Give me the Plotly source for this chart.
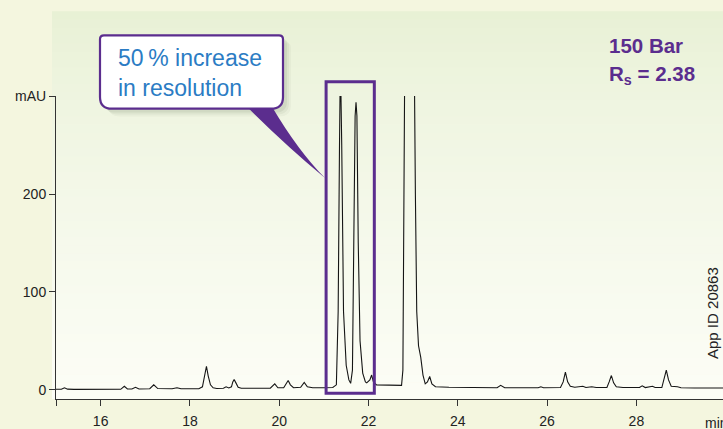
import plotly.graph_objects as go

# ---------------- data ----------------
time_min = [
    15.00, 15.12, 15.19, 15.26, 15.40, 16.00, 16.45, 16.53, 16.60, 16.70, 16.78, 16.86,
    17.10, 17.19, 17.28, 17.60, 17.71, 17.80, 18.20, 18.28, 18.33, 18.37, 18.41, 18.46,
    18.52, 18.60, 18.75, 18.81, 18.87, 18.93, 18.96, 18.99, 19.03, 19.08, 19.15, 19.80,
    19.90, 19.97, 20.10, 20.16, 20.20, 20.25, 20.32, 20.48, 20.56, 20.63, 20.75, 21.00,
    21.20, 21.28, 21.32, 21.35, 21.37, 21.40, 21.44, 21.50, 21.56, 21.60, 21.64, 21.67,
    21.70, 21.72, 21.74, 21.77, 21.81, 21.87, 21.93, 21.96, 22.03, 22.07, 22.11, 22.18,
    22.50, 22.74, 22.77, 22.79, 22.82, 22.92, 23.01, 23.05, 23.08, 23.12, 23.17, 23.22,
    23.27, 23.32, 23.37, 23.42, 23.50, 23.80, 24.50, 24.88, 24.96, 25.05, 25.80, 25.86,
    25.92, 26.30, 26.36, 26.41, 26.46, 26.52, 26.62, 26.80, 26.87, 27.00, 27.10, 27.34,
    27.39, 27.44, 27.49, 27.55, 27.70, 28.07, 28.13, 28.20, 28.36, 28.42, 28.57, 28.62,
    28.67, 28.72, 28.78, 28.92, 29.00, 29.30, 29.60, 29.94,
]
signal_mau = [
    0.5, 0.5, 2.0, 0.6, 0.3, 0.3, 0.4, 3.5, 0.8, 0.8, 2.5, 0.8,
    1.0, 5.0, 1.2, 1.0, 2.0, 1.0, 1.0, 3.0, 14.0, 24.0, 14.0, 5.0,
    2.0, 1.3, 1.5, 3.0, 1.8, 3.0, 8.0, 10.5, 7.0, 2.5, 1.5, 1.5,
    6.0, 2.0, 2.0, 6.0, 9.5, 5.0, 2.0, 2.5, 7.5, 3.0, 2.0, 2.0,
    2.2, 5.0, 80.0, 250.0, 340.0, 250.0, 80.0, 25.0, 10.0, 6.5, 20.0, 150.0,
    280.0, 294.0, 280.0, 150.0, 50.0, 17.0, 8.0, 7.0, 10.0, 15.0, 8.0, 5.0,
    4.5, 4.5, 20.0, 150.0, 400.0, 320.0, 420.0, 200.0, 80.0, 45.0, 33.0, 15.0,
    6.0, 8.0, 13.5, 6.0, 3.0, 2.5, 2.0, 2.0, 4.5, 2.0, 2.0, 3.0,
    2.0, 2.2, 8.0, 18.0, 8.0, 3.5, 2.5, 3.5, 2.2, 3.0, 2.2, 2.2,
    8.0, 14.5, 7.0, 3.0, 2.2, 2.2, 4.0, 2.2, 3.5, 2.2, 2.2, 10.0,
    20.0, 10.0, 3.5, 3.0, 2.0, 1.8, 1.8, 1.8,
]

x_tick_vals = [15, 16, 18, 20, 22, 24, 26, 28]
x_tick_text = ["", "16", "18", "20", "22", "24", "26", "28"]
y_tick_vals = [0, 100, 200, 300]
y_tick_text = ["0", "100", "200", "mAU"]

# highlighted region (resolution box)
box_time = [21.05, 22.13]
box_mau = [-3.5, 315.0]

# ---------------- layout geometry ----------------
W, H = 723, 429
ML, MR, MT, MB = 56, 0, 96, 23
X_RANGE = [15.0, 29.94]
Y_RANGE = [-9.5, 300.5]
PLOT_H = H - MT - MB
PLOT_W = W - ML - MR

PURPLE = "#5b2d8e"
BLUE = "#2b7cc4"
FONT = "Liberation Sans, Arial, sans-serif"


def yp_val(v):
    """mAU value -> paper y"""
    return (v - Y_RANGE[0]) / (Y_RANGE[1] - Y_RANGE[0])


def yp_px(py):
    """pixel row -> paper y"""
    return (H - MB - py) / PLOT_H


def xp_px(px):
    return (px - ML) / PLOT_W


fig = go.Figure()
fig.add_trace(go.Scatter(
    x=time_min, y=signal_mau, mode="lines",
    line=dict(color="#151515", width=1.1),
    hoverinfo="skip", showlegend=False,
))

shapes = []

# background panel gradient (light green at top to near white at bottom)
top_c = (231, 240, 212)
bot_c = (252, 253, 246)
n_bands = 48
p_top = yp_px(10)
x0_panel = xp_px(52)
for i in range(n_bands):
    f0 = i / n_bands
    f1 = (i + 1) / n_bands
    fm = (f0 + f1) / 2  # 0 at top
    g = fm ** 0.7
    c = tuple(round(top_c[k] + (bot_c[k] - top_c[k]) * g) for k in range(3))
    shapes.append(dict(
        type="rect", xref="paper", yref="paper",
        x0=x0_panel, x1=1.0,
        y0=p_top * (1 - f1), y1=p_top * (1 - f0) + 0.002,
        fillcolor="rgb(%d,%d,%d)" % c, line=dict(width=0), layer="below",
    ))

# callout geometry (pixels)
cx0, cx1, cy0, cy1 = 100, 283, 34, 109


def rounded_path(px0, px1, py0, py1, rt, rb):
    X0, X1 = xp_px(px0), xp_px(px1)
    Y0, Y1 = yp_px(py0), yp_px(py1)  # Y0 top, Y1 bottom
    rtx, rty = rt / PLOT_W, rt / PLOT_H
    rbx, rby = rb / PLOT_W, rb / PLOT_H
    return (
        f"M {X0 + rtx},{Y0} L {X1 - rtx},{Y0} Q {X1},{Y0} {X1},{Y0 - rty} "
        f"L {X1},{Y1 + rby} Q {X1},{Y1} {X1 - rbx},{Y1} "
        f"L {X0 + rbx},{Y1} Q {X0},{Y1} {X0},{Y1 + rby} "
        f"L {X0},{Y0 - rty} Q {X0},{Y0} {X0 + rtx},{Y0} Z"
    )


# soft shadow
for off, a in [(8, 0.04), (6, 0.06), (4, 0.08)]:
    shapes.append(dict(
        type="path", xref="paper", yref="paper",
        path=rounded_path(cx0 + off, cx1 + off, cy0 + off, cy1 + off, 4, 12),
        fillcolor="rgba(70,80,50,%.2f)" % a, line=dict(width=0), layer="above",
    ))

# pointer wedge
shapes.append(dict(
    type="path", xref="paper", yref="paper",
    path=(f"M {xp_px(247)},{yp_px(cy1 - 2)} L {xp_px(272)},{yp_px(cy1 - 2)} "
          f"Q {xp_px(298)},{yp_px(152)} {xp_px(325)},{yp_px(180)} "
          f"Q {xp_px(284)},{yp_px(145)} {xp_px(247)},{yp_px(cy1 - 2)} Z"),
    fillcolor=PURPLE, line=dict(width=0), layer="above",
))

# callout body
shapes.append(dict(
    type="path", xref="paper", yref="paper",
    path=rounded_path(cx0, cx1, cy0, cy1, 4, 12),
    fillcolor="white", line=dict(color=PURPLE, width=2.2), layer="above",
))

# resolution box around the critical pair
shapes.append(dict(
    type="rect", xref="x", yref="paper",
    x0=box_time[0], x1=box_time[1],
    y0=yp_val(box_mau[0]), y1=yp_val(box_mau[1]),
    line=dict(color=PURPLE, width=3), fillcolor="rgba(0,0,0,0)", layer="above",
))

annotations = [
    dict(text="50\u2009% increase<br>in resolution", xref="paper", yref="paper",
         x=xp_px(116), y=yp_px(72), xanchor="left", yanchor="middle", align="left",
         showarrow=False, font=dict(family=FONT, size=23, color=BLUE)),
    dict(text="<b>150 Bar</b>", xref="paper", yref="paper",
         x=xp_px(607), y=yp_px(44), xanchor="left", yanchor="middle",
         showarrow=False, font=dict(family=FONT, size=20.5, color=PURPLE)),
    dict(text="<b>R<sub>s</sub> = 2.38</b>", xref="paper", yref="paper",
         x=xp_px(607), y=yp_px(75), xanchor="left", yanchor="middle",
         showarrow=False, font=dict(family=FONT, size=20.5, color=PURPLE)),
    dict(text="App ID 20863", xref="paper", yref="paper",
         x=xp_px(713), y=yp_px(318), xanchor="center", yanchor="middle",
         textangle=-90, showarrow=False, font=dict(family=FONT, size=15, color="#222")),
    dict(text="min", xref="paper", yref="paper",
         x=xp_px(703), y=0, yshift=-14, xanchor="left", yanchor="top",
         showarrow=False, font=dict(family=FONT, size=14, color="#222")),
]

fig.update_layout(
    width=W, height=H,
    margin=dict(l=ML, r=MR, t=MT, b=MB, pad=0),
    paper_bgcolor="#f4f6df",
    plot_bgcolor="rgba(0,0,0,0)",
    showlegend=False,
    shapes=shapes,
    annotations=annotations,
    font=dict(family=FONT, size=14, color="#222"),
    xaxis=dict(
        range=X_RANGE, tickvals=x_tick_vals, ticktext=x_tick_text,
        ticks="outside", ticklen=6, tickcolor="#333", tickwidth=1,
        showline=True, linecolor="#333", linewidth=1,
        showgrid=False, zeroline=False, fixedrange=True,
        ticklabelstandoff=3,
        tickfont=dict(family=FONT, size=14, color="#222"),
    ),
    yaxis=dict(
        range=Y_RANGE, tickvals=y_tick_vals, ticktext=y_tick_text,
        ticks="outside", ticklen=6, tickcolor="#333", tickwidth=1,
        showline=True, linecolor="#333", linewidth=1,
        showgrid=False, zeroline=False, fixedrange=True,
        tickfont=dict(family=FONT, size=14, color="#222"),
    ),
)

fig.write_html("out.html")
